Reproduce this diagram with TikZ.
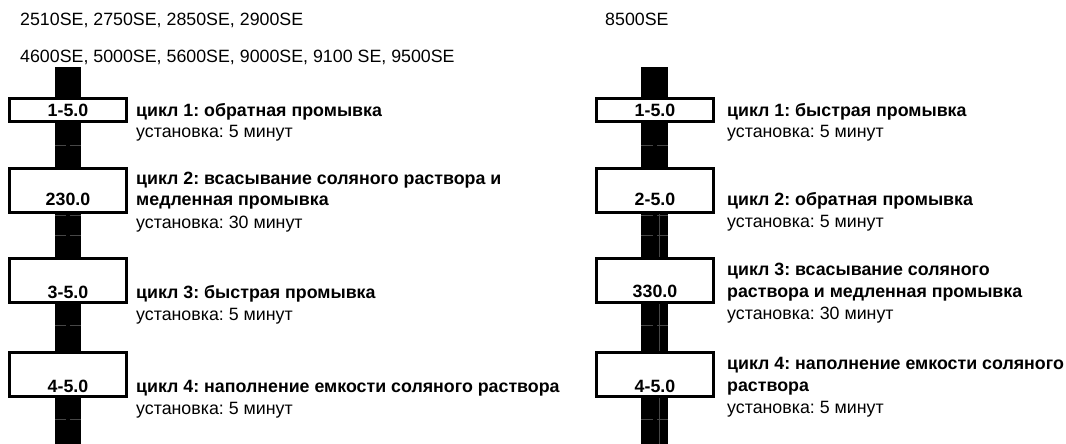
\documentclass[tikz,border=0pt]{standalone}
\usepackage{fontspec}
\setmainfont{Liberation Sans}
\frenchspacing
\begin{document}
\begin{tikzpicture}[x=1pt,y=-1pt,
  txt/.style={anchor=base west,inner sep=0pt,font=\fontsize{17.8}{22}\selectfont},
  ttl/.style={txt,font=\fontsize{17.8}{22}\selectfont\bfseries},
  spinebar/.style={fill=black},
  cyclebox/.style={draw=black,fill=white,line width=3pt,minimum width=117pt,inner sep=0pt},
  shortbox/.style={cyclebox,minimum height=23pt},
  tallbox/.style={cyclebox,minimum height=44pt},
  boxlabel/.style={anchor=base,inner sep=0pt,font=\fontsize{17.8}{22}\selectfont\bfseries},
  seam/.style={draw=black!72,line width=0.8pt}]
\useasboundingbox (0,0) rectangle (1066,444);
% headers
\node[txt] (h1) at (20,26) {2510SE, 2750SE, 2850SE, 2900SE};
\node[txt] (h2) at (20,63) {4600SE, 5000SE, 5600SE, 9000SE, 9100 SE, 9500SE};
\node[txt] (h3) at (605,26) {8500SE};
% spines
\coordinate (lt) at (55,67); \coordinate (lb) at (81,444);
\coordinate (rt) at (641,67); \coordinate (rb) at (668,444);
\fill[spinebar] (lt) rectangle (lb);
\fill[spinebar] (rt) rectangle (rb);
\foreach \yy in {145,215,235,325,419}{
  \draw[seam] (55,\yy) -- (66,\yy) (70,\yy) -- (81,\yy);
  \draw[seam] (641,\yy) -- (653,\yy) (657,\yy) -- (668,\yy);
}
\draw[seam] (659,214) -- (659,444);
% left boxes
\node[shortbox] (L1) at (68,110) {};
\node[tallbox] (L2) at (68,190) {};
\node[tallbox] (L3) at (68,280) {};
\node[tallbox] (L4) at (68,374.5) {};
\node[boxlabel] (L1t) at (68,116) {1-5.0};
\node[boxlabel] (L2t) at (68,205) {230.0};
\node[boxlabel] (L3t) at (68,298) {3-5.0};
\node[boxlabel] (L4t) at (68,392) {4-5.0};
% right boxes
\node[shortbox] (R1) at (655,110) {};
\node[tallbox] (R2) at (655,190) {};
\node[tallbox] (R3) at (655,280) {};
\node[tallbox] (R4) at (655,374.5) {};
\node[boxlabel] (R1t) at (655,116) {1-5.0};
\node[boxlabel] (R2t) at (655,205) {2-5.0};
\node[boxlabel] (R3t) at (655,297) {330.0};
\node[boxlabel] (R4t) at (655,392) {4-5.0};
% left texts
\node[ttl] (l1a) at (136,116) {цикл 1: обратная промывка};
\node[txt] (l1b) at (136,137) {установка: 5 минут};
\node[ttl] (l2a) at (136,184) {цикл 2: всасывание соляного раствора и};
\node[ttl] (l2b) at (136,205) {медленная промывка};
\node[txt] (l2c) at (136,228) {установка: 30 минут};
\node[ttl] (l3a) at (136,298) {цикл 3: быстрая промывка};
\node[txt] (l3b) at (136,320) {установка: 5 минут};
\node[ttl] (l4a) at (136,392) {цикл 4: наполнение емкости соляного раствора};
\node[txt] (l4b) at (136,414) {установка: 5 минут};
% right texts
\node[ttl] (r1a) at (727,116) {цикл 1: быстрая промывка};
\node[txt] (r1b) at (727,137) {установка: 5 минут};
\node[ttl] (r2a) at (727,205) {цикл 2: обратная промывка};
\node[txt] (r2b) at (727,227) {установка: 5 минут};
\node[ttl] (r3a) at (727,275) {цикл 3: всасывание соляного};
\node[ttl] (r3b) at (727,297) {раствора и медленная промывка};
\node[txt] (r3c) at (727,319) {установка: 30 минут};
\node[ttl] (r4a) at (727,369) {цикл 4: наполнение емкости соляного};
\node[ttl] (r4b) at (727,391) {раствора};
\node[txt] (r4c) at (727,413) {установка: 5 минут};
\end{tikzpicture}
\end{document}
